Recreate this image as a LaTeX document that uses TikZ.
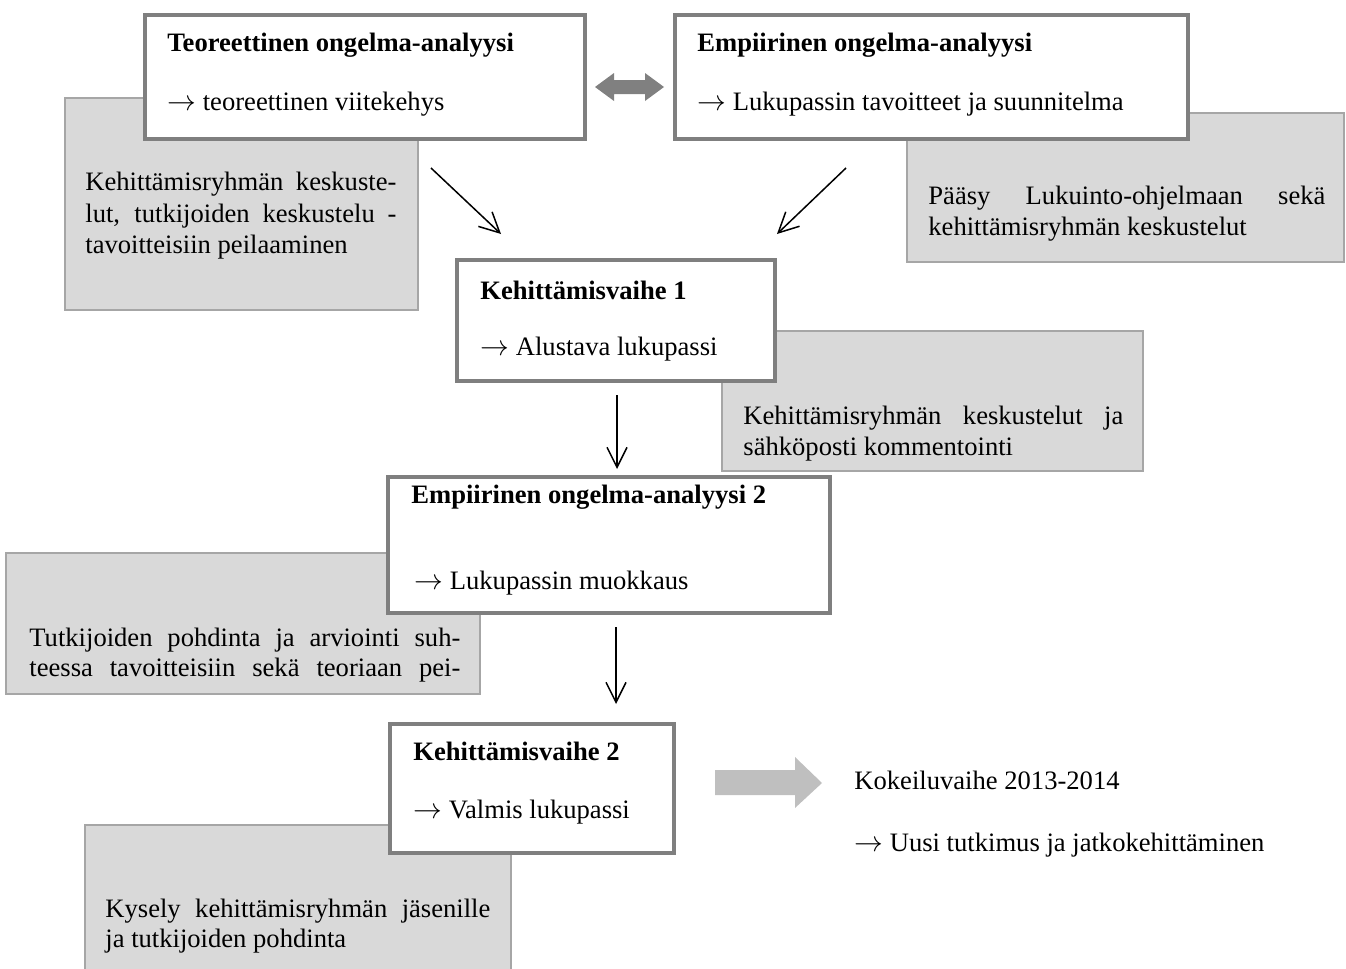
\documentclass[tikz,border=0pt]{standalone}
\usepackage{fontspec}
\setmainfont{Liberation Serif}
\usetikzlibrary{arrows.meta}
\definecolor{boxgray}{HTML}{7F7F7F}
\definecolor{gline}{HTML}{A6A6A6}
\definecolor{gfill}{HTML}{D9D9D9}
\definecolor{dgray}{HTML}{808080}
\definecolor{lgray}{HTML}{BFBFBF}
\newcommand{\fsz}{\fontsize{13.3pt}{15.3pt}\selectfont}
\newcommand{\rar}{\(\rightarrow\)}
\tikzset{
  wbox/.style={draw=boxgray, line width=2pt, fill=white, inner sep=0pt, outer sep=0pt, anchor=north west},
  gbox/.style={draw=gline, line width=1pt, fill=gfill, inner sep=0pt, outer sep=0pt, anchor=north west},
  txt/.style={anchor=base west, inner sep=0pt, font=\fsz},
  conn/.style={-{Straight Barb[length=10pt,width=10pt]}, line width=0.75pt, black},
}
\begin{document}
\begin{tikzpicture}[x=0.5pt,y=-0.5pt]
\useasboundingbox (0,0) rectangle (1346,969);
\clip (0,0) rectangle (1346,969);

% grey comment boxes
\node[gbox, minimum width=176.5pt, minimum height=106pt] (gA) at (65,98) {};
\node[gbox, minimum width=218.5pt, minimum height=74.5pt] (gB) at (907,113) {};
\node[gbox, minimum width=210.5pt, minimum height=70pt] (gC) at (722,331) {};
\node[gbox, minimum width=237pt, minimum height=70.5pt] (gD) at (6,553) {};
\node[gbox, minimum width=213pt, minimum height=87.5pt] (gE) at (85,825) {};

% white process boxes
\node[wbox, minimum width=220pt, minimum height=62pt] (b1) at (145,15) {};
\node[wbox, minimum width=256.5pt, minimum height=62pt] (b2) at (675,15) {};
\node[wbox, minimum width=159pt, minimum height=60.5pt] (b3) at (457,260) {};
\node[wbox, minimum width=221pt, minimum height=68pt] (b4) at (388,477) {};
\node[wbox, minimum width=142pt, minimum height=64.5pt] (b5) at (390,724) {};

% box texts
\node[txt] (t1a) at (167,52) {\textbf{Teoreettinen ongelma-analyysi}};
\node[txt] (t1b) at (167,110) {\rar{} teoreettinen viitekehys};
\node[txt] (t2a) at (697,52) {\textbf{Empiirinen ongelma-analyysi}};
\node[txt] (t2b) at (697,110) {\rar{} Lukupassin tavoitteet ja suunnitelma};
\node[txt] (t3a) at (480,299) {\textbf{Kehittämisvaihe 1}};
\node[txt] (t3b) at (480,355) {\rar{} Alustava lukupassi};
\node[txt] (t4a) at (411,503) {\textbf{Empiirinen ongelma-analyysi 2}};
\node[txt] (t4b) at (414,589) {\rar{} Lukupassin muokkaus};
\node[txt] (t5a) at (413,760) {\textbf{Kehittämisvaihe 2}};
\node[txt] (t5b) at (413,818) {\rar{} Valmis lukupassi};

% grey box texts
\node[txt] (gA1) at (85,190) {\makebox[155.5pt][s]{Kehittämisryhmän keskuste-}};
\node[txt] (gA2) at (85,222) {\makebox[155.5pt][s]{lut, tutkijoiden keskustelu -}};
\node[txt] (gA3) at (85,253) {tavoitteisiin peilaaminen};
\node[txt] (gB1) at (928,204) {\makebox[198.5pt][s]{Pääsy Lukuinto-ohjelmaan sekä}};
\node[txt] (gB2) at (928,235) {kehittämisryhmän keskustelut};
\node[txt] (gC1) at (743,424) {\makebox[190pt][s]{Kehittämisryhmän keskustelut ja}};
\node[txt] (gC2) at (743,455) {sähköposti kommentointi};
\node[txt] (gD1) at (29,646) {\makebox[215.5pt][s]{Tutkijoiden pohdinta ja arviointi suh-}};
\node[txt] (gD2) at (29,676) {\makebox[215.5pt][s]{teessa tavoitteisiin sekä teoriaan pei-}};
\node[txt] (gE1) at (105,917) {\makebox[192.5pt][s]{Kysely kehittämisryhmän jäsenille}};
\node[txt] (gE2) at (105,947) {ja tutkijoiden pohdinta};

% final texts
\node[txt] (k1) at (854,789) {Kokeiluvaihe 2013-2014};
\node[txt] (k2) at (854,851) {\rar{} Uusi tutkimus ja jatkokehittäminen};

% double arrow between b1 and b2
\fill[dgray] (595,87) -- (614,73) -- (614,80) -- (645,80) -- (645,73) -- (664,87)
  -- (645,101) -- (645,94) -- (614,94) -- (614,101) -- cycle;

% big grey arrow
\fill[lgray] (715,770) -- (795,770) -- (795,757) -- (822,783) -- (795,808)
  -- (795,795) -- (715,795) -- cycle;

% connectors
\coordinate (a1s) at (431,168); \coordinate (a1e) at (501,234);
\coordinate (a2s) at (846,168); \coordinate (a2e) at (777,234);
\coordinate (a3s) at (617,395); \coordinate (a3e) at (617,469);
\coordinate (a4s) at (616,627); \coordinate (a4e) at (616,704);
\draw[conn] (a1s) -- (a1e);
\draw[conn] (a2s) -- (a2e);
\draw[conn] (a3s) -- (a3e);
\draw[conn] (a4s) -- (a4e);
\end{tikzpicture}
\end{document}
